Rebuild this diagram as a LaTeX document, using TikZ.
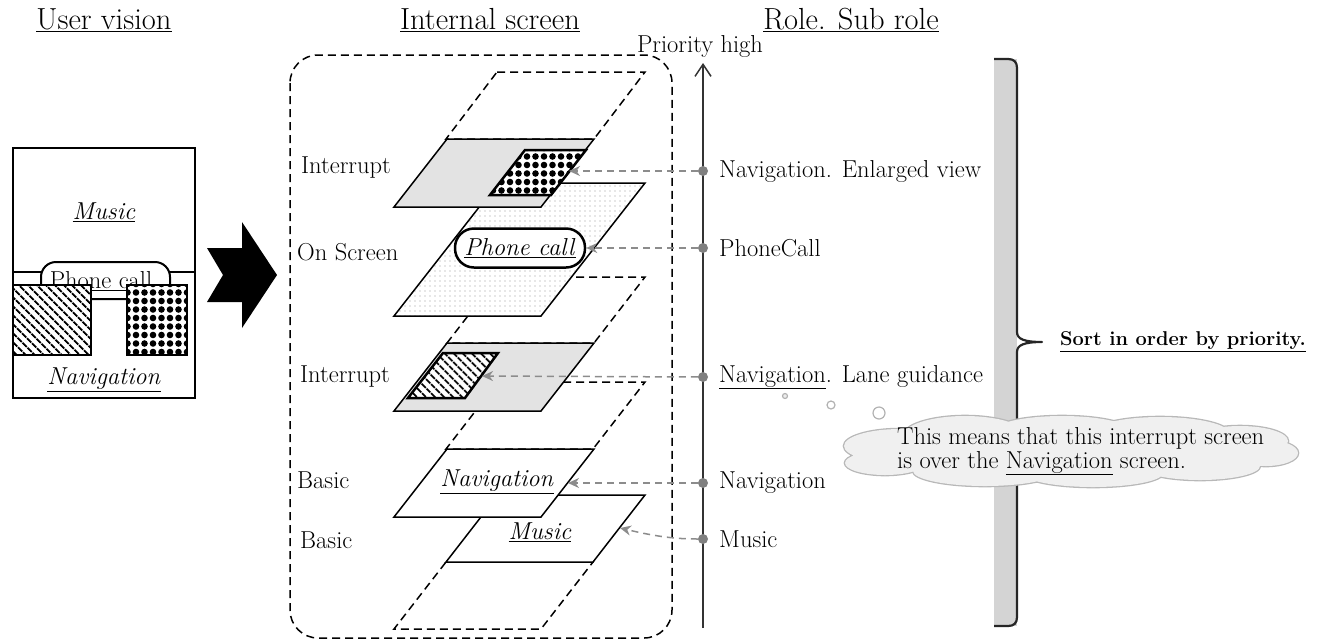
\documentclass[tikz,border=0pt]{standalone}
\usepackage{fontspec}
\usetikzlibrary{arrows.meta,patterns.meta}
\newcommand\myfs{\fontsize{24.5}{27}\selectfont}
\newcommand\mytitlefs{\fontsize{30.5}{34}\selectfont}
\newcommand\mysortfs{\fontsize{20}{24}\selectfont}
\newcommand\mycloudfs{\fontsize{24.5}{24}\selectfont}
\begin{document}
\begin{tikzpicture}[x=1pt,y=-1pt, font=\myfs,
  lbl/.style={inner sep=0pt, anchor=west},
  layer/.style={draw=black, line width=1.5pt},
  ghost/.style={draw=black, line width=1.5pt, dash pattern=on 8pt off 5pt},
  intfill/.style={fill=black!11},
  ptr/.style={draw=black!45, line width=1.5pt, dash pattern=on 7pt off 5pt, -{Stealth[length=11pt,width=10pt]}},
  pdot/.style={circle, fill=black!50, minimum size=10pt, inner sep=0pt},
  thickbox/.style={draw=black, line width=2.5pt},
  checker/.style={pattern={Dots[distance=8.5pt,radius=3.3pt]}, pattern color=black},
  hatch/.style={pattern={Lines[angle=-45,distance=6.5pt,line width=2pt]}, pattern color=black},
  cloudpuff/.style={draw=black!28, line width=2.6pt},
  cloudfill/.style={fill=black!6},
]
\useasboundingbox (0,0) rectangle (1319,641);

% ---------- titles ----------
\node[font=\mytitlefs] (t1) at (104,20) {\underline{User vision}};
\node[font=\mytitlefs] (t2) at (490,20) {\underline{Internal screen}};
\node[font=\mytitlefs] (t3) at (851,20) {\underline{Role. Sub role}};

% ---------- user vision ----------
\draw[line width=1.5pt] (13,148) rectangle (195,398);
\draw[line width=1.5pt] (13,272) -- (195,272);
\node[draw, line width=2pt, fill=white, rounded corners=15pt, minimum width=129pt, minimum height=37pt, inner sep=0pt] (uvphone) at (105.5,280.5) {};
\node (uvphonetxt) at (101,281) {\underline{Phone call}};
\fill[white] (13,285) rectangle (91,355);
\draw[line width=2pt, hatch] (13,285) rectangle (91,355);
\fill[white] (127,285) rectangle (187,355);
\draw[line width=2pt, checker] (127,285) rectangle (187,355);
\node (uvmusic) at (104,212) {\underline{\textit{Music}}};
\node (uvnav) at (104,380) {\underline{\textit{Navigation}}};

% ---------- big arrow ----------
\fill[black] (207,248) -- (242,248) -- (242,222) -- (277,275) -- (242,328) -- (242,302) -- (207,302) -- (223,275) -- cycle;

% ---------- internal screen frame ----------
\draw[line width=1.5pt, dash pattern=on 8pt off 5pt, rounded corners=28pt] (290,55) rectangle (672,638);

% ghost (empty) layers
\draw[ghost] (497,72) -- (645,72) -- (594,139) -- (446,139) -- cycle;
\draw[ghost] (498,277) -- (645,277) -- (594,343) -- (447,343) -- cycle;
\draw[ghost] (498,382) -- (645,382) -- (593,449) -- (446,449) -- cycle;
\draw[ghost] (446,562) -- (593,562) -- (541,629) -- (394,629) -- cycle;

% On Screen layer
\fill[white] (498,183) -- (645,183) -- (541,316) -- (394,316) -- cycle;
\path[pattern={Dots[distance=5pt,radius=0.6pt]}, pattern color=black!40] (498,183) -- (645,183) -- (541,316) -- (394,316) -- cycle;
\draw[layer] (498,183) -- (645,183) -- (541,316) -- (394,316) -- cycle;
\node[thickbox, fill=white, rounded corners=19pt, minimum width=130pt, minimum height=39pt, inner sep=0pt] (osphone) at (520,248) {\underline{\textit{Phone call}}};

% Interrupt layer 1
\draw[layer, intfill] (447,139) -- (594,139) -- (541,207) -- (394,207) -- cycle;
\fill[white] (525,150) -- (586,150) -- (551,195) -- (490,195) -- cycle;
\draw[thickbox, checker] (525,150) -- (586,150) -- (551,195) -- (490,195) -- cycle;
\coordinate (chkR) at (569,171);

% Music layer
\draw[layer, fill=white] (498,495) -- (645,495) -- (593,562) -- (446,562) -- cycle;
\node (lmusic) at (540,532) {\underline{\textit{Music}}};
\coordinate (musR) at (620,528);

% Navigation layer
\draw[layer, fill=white] (447,449) -- (594,449) -- (541,517) -- (394,517) -- cycle;
\node (lnav) at (497,482) {\underline{\textit{Navigation}}};
\coordinate (navR) at (568,483);

% Interrupt layer 2
\draw[layer, intfill] (447,343) -- (594,343) -- (541,411) -- (394,411) -- cycle;
\fill[white] (443,353) -- (498,353) -- (465,398) -- (408,398) -- cycle;
\draw[thickbox, hatch] (443,353) -- (498,353) -- (465,398) -- (408,398) -- cycle;
\coordinate (hatR) at (482,376);

% left labels
\node[lbl] (l1) at (301,168) {Interrupt};
\node[lbl] (l2) at (297,252) {On Screen};
\node[lbl] (l3) at (300,377) {Interrupt};
\node[lbl] (l4) at (297,480) {Basic};
\node[lbl] (l5) at (300,540) {Basic};

% ---------- priority axis ----------
\coordinate (axbot) at (703,628);
\coordinate (axtop) at (703,63);
\draw[draw=black!80, line width=1.5pt, -{Straight Barb[length=12pt,width=16pt,line width=1.5pt]}] (axbot) -- (axtop);
\node (prio) at (700,46) {Priority high};

\node[pdot] (d1) at (703,171) {};
\node[pdot] (d2) at (703,248) {};
\node[pdot] (d3) at (703,377) {};
\node[pdot] (d4) at (703,483) {};
\node[pdot] (d5) at (703,539) {};

\node[lbl] (r1) at (719,171) {Navigation. Enlarged view};
\node[lbl] (r2) at (719,248) {PhoneCall};
\node[lbl] (r3) at (719,377) {\underline{Navigation}. Lane guidance};
\node[lbl] (r4) at (719,483) {Navigation};
\node[lbl] (r5) at (719,539) {Music};

\draw[ptr] (d1) -- (chkR);
\draw[ptr] (d2) -- (osphone.east);
\draw[ptr] (d3) -- (hatR);
\draw[ptr] (d4) -- (navR);
\draw[ptr] (d5) .. controls (670,539) and (650,535) .. (musR);

% ---------- bracket ----------
\fill[black!17] (994,59) rectangle (1017,626);
\draw[line width=2.2pt, black!85, line join=round]
  (994,59) -- (1008,59) .. controls (1014,59) and (1017,62) .. (1017,68) -- (1017,332)
  .. controls (1017,339) and (1024,342) .. (1042,342)
  .. controls (1024,342) and (1017,345) .. (1017,352)
  -- (1017,617) .. controls (1017,623) and (1014,626) .. (1008,626) -- (994,626);
\node[lbl, font=\mysortfs] (sort) at (1060,342) {\textbf{\underline{Sort in order by priority.}}};

% ---------- cloud ----------
\draw[draw=black!30, fill=black!7, line width=1.2pt] (785,396) circle (2.5pt);
\draw[draw=black!30, fill=white, line width=1.2pt] (831,405) circle (4pt);
\draw[draw=black!30, fill=white, line width=1.2pt] (879,413) circle (6pt);
\def\cloudpath{
  (900,446) ellipse (56pt and 17pt)
  (885,463) ellipse (40pt and 12pt)
  (965,436) ellipse (62pt and 20pt)
  (1062,432) ellipse (70pt and 16pt)
  (1160,434) ellipse (70pt and 17pt)
  (1240,441) ellipse (48pt and 15pt)
  (1266,453) ellipse (32pt and 13pt)
  (985,471) ellipse (72pt and 15pt)
  (1093,473) ellipse (70pt and 14pt)
  (1200,466) ellipse (60pt and 14pt)
  (1070,452) ellipse (185pt and 24pt)}
\path[cloudpuff] \cloudpath;
\path[cloudfill] \cloudpath;
\node[lbl, align=left, font=\mycloudfs] (cloudtxt) at (897,451) {This means that this interrupt screen\\is over the \underline{Navigation} screen.};
\end{tikzpicture}
\end{document}
